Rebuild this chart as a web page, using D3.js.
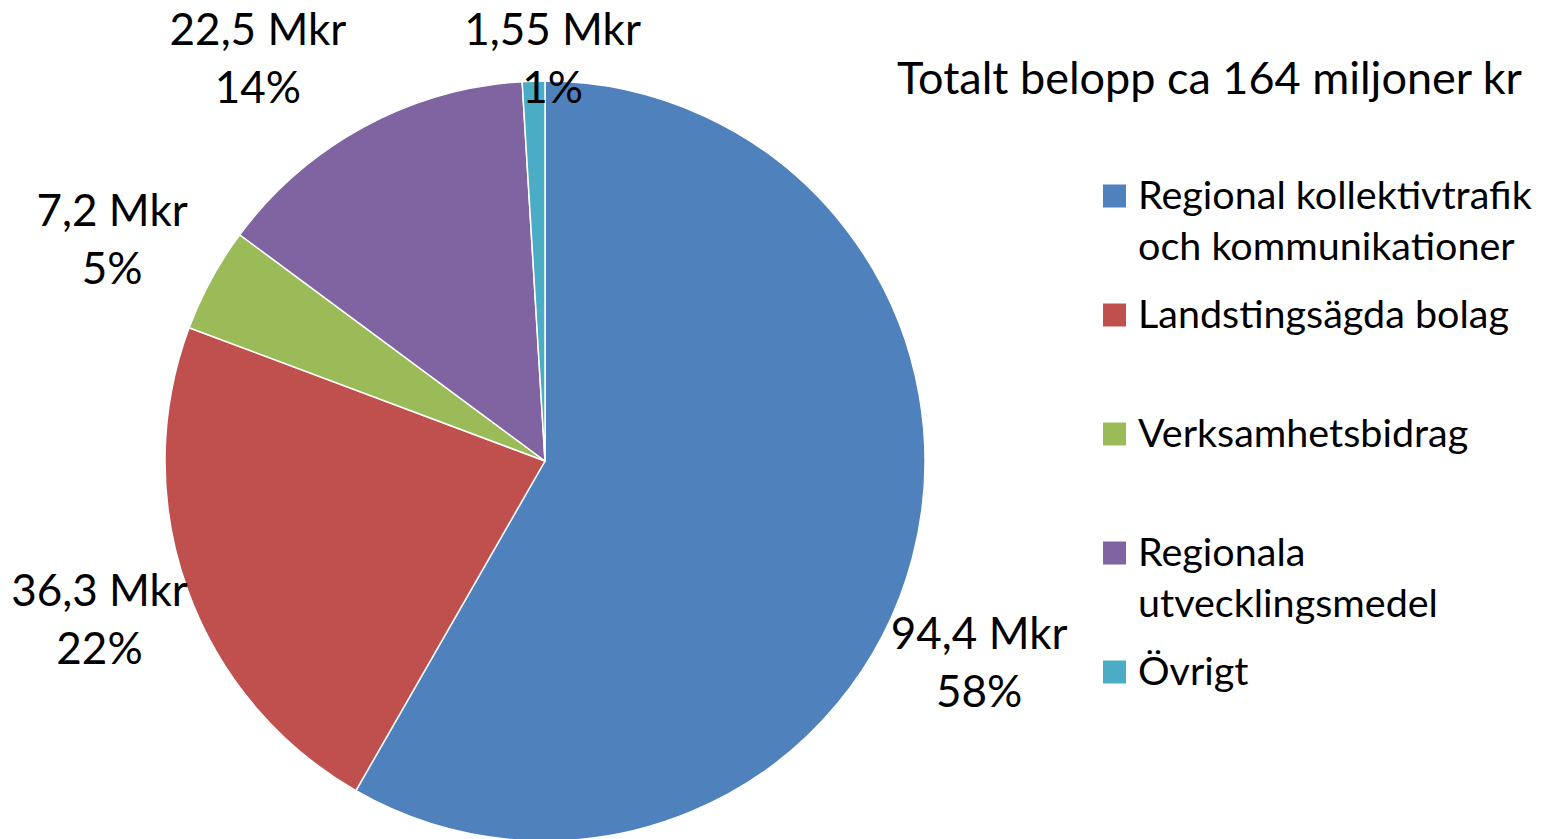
<!DOCTYPE html>
<html>
<head>
<meta charset="utf-8">
<script src="https://cdn.jsdelivr.net/npm/d3@7"></script>
<style>
  body { margin: 0; background: #fff; }
  text { font-family: Lato, "Liberation Sans", sans-serif; fill: #000; }
</style>
</head>
<body>
<div id="chart"></div>
<script>
// data
var categories = ["Regional kollektivtrafik och kommunikationer", "Landstingsägda bolag", "Verksamhetsbidrag", "Regionala utvecklingsmedel", "Övrigt"];
var legendLines = [["Regional kollektivtrafik", "och kommunikationer"], ["Landstingsägda bolag"], ["Verksamhetsbidrag"], ["Regionala", "utvecklingsmedel"], ["Övrigt"]];
var amounts = [94.4, 36.3, 7.2, 22.5, 1.55];
var amountLabels = ["94,4 Mkr", "36,3 Mkr", "7,2 Mkr", "22,5 Mkr", "1,55 Mkr"];
var percentLabels = ["58%", "22%", "5%", "14%", "1%"];
var colors = ["#4F81BD", "#C0504D", "#9BBB59", "#8064A2", "#4BACC6"];
var title = "Totalt belopp ca 164 miljoner kr";

var width = 1542,
    height = 839;

var cx = 545, cy = 461, radius = 380;

// nudges for the data labels, relative to the slice edge point
var labelNudge = [[67, 119], [-88, 45], [-99, -24], [-106, -53], [19, -7]];

var entries = amounts.map(function(v, i) {
  return { name: categories[i], value: v, i: i };
});

var svg = d3.select("#chart")
  .append("svg")
    .attr("width", width)
    .attr("height", height);

var pie = d3.pie()
  .sort(null)
  .value(function(d) { return d.value; });

var arc = d3.arc()
  .innerRadius(0)
  .outerRadius(radius);

var arcs = pie(entries);

var pieGroup = svg.append("g")
  .attr("transform", "translate(" + cx + "," + cy + ")");

pieGroup.selectAll("path")
  .data(arcs)
  .enter()
    .append("path")
    .attr("d", arc)
    .attr("fill", function(d) { return colors[d.data.i]; })
    .attr("stroke", "#fff")
    .attr("stroke-width", 1.5)
    .attr("stroke-linejoin", "round");

// data labels
var labels = pieGroup.selectAll("g.label")
  .data(arcs)
  .enter()
    .append("g")
    .attr("class", "label")
    .attr("transform", function(d) {
      var mid = (d.startAngle + d.endAngle) / 2;
      var nudge = labelNudge[d.data.i];
      var x = Math.sin(mid) * radius + nudge[0];
      var y = -Math.cos(mid) * radius + nudge[1];
      return "translate(" + x + "," + y + ")";
    });

labels.append("text")
  .attr("text-anchor", "middle")
  .attr("font-size", "44px")
  .attr("y", -29)
  .text(function(d) { return amountLabels[d.data.i]; });

labels.append("text")
  .attr("text-anchor", "middle")
  .attr("font-size", "44px")
  .attr("y", 29)
  .text(function(d) { return percentLabels[d.data.i]; });

// title
svg.append("text")
  .attr("x", 1522)
  .attr("y", 94)
  .attr("text-anchor", "end")
  .attr("font-size", "45px")
  .text(title);

// legend
var legendY = d3.scalePoint()
  .domain(d3.range(categories.length))
  .range([196, 672]);

var legend = svg.append("g")
  .attr("class", "legend")
  .selectAll("g")
  .data(entries)
  .enter()
    .append("g")
    .attr("transform", function(d) { return "translate(1103," + legendY(d.i) + ")"; });

legend.append("rect")
  .attr("x", 0)
  .attr("y", -11.5)
  .attr("width", 23)
  .attr("height", 23)
  .attr("fill", function(d) { return colors[d.i]; });

legend.append("text")
  .attr("x", 35)
  .attr("y", 13)
  .attr("font-size", "39.5px")
  .selectAll("tspan")
  .data(function(d) { return legendLines[d.i]; })
  .enter()
    .append("tspan")
    .attr("x", 35)
    .attr("dy", function(d, j) { return j === 0 ? 0 : 51; })
    .text(function(d) { return d; });
</script>
</body>
</html>
